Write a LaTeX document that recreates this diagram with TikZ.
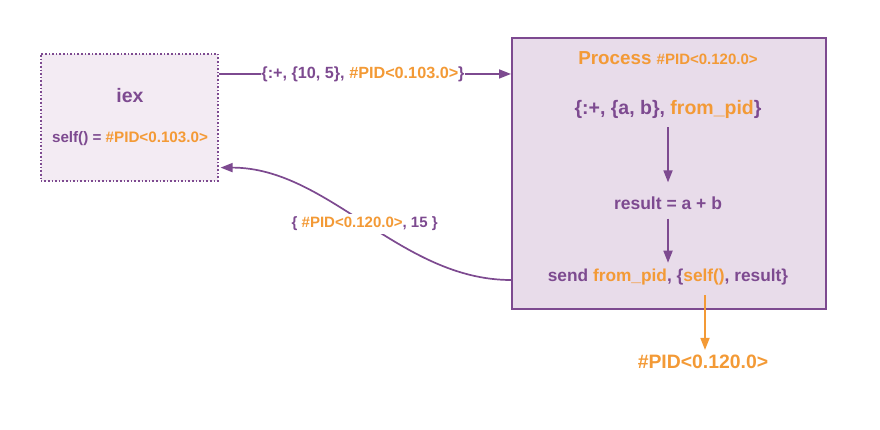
\documentclass[tikz,border=0pt]{standalone}
\usepackage{fontspec}
\setmainfont{Liberation Sans}
\usetikzlibrary{arrows.meta}
\definecolor{pur}{HTML}{7D4A90}
\definecolor{org}{HTML}{F39A36}
\definecolor{pfill}{HTML}{E8DCEA}
\definecolor{ifill}{HTML}{F3EBF3}
\newcommand{\fsz}[1]{\fontsize{#1}{#1}\selectfont\bfseries}
\begin{document}
\begin{tikzpicture}[x=1pt,y=-1pt,
  txt/.style={text=pur, inner sep=1pt},
  arr/.style={draw=pur, line width=1.7pt, -{Triangle[length=12pt,width=9pt]}},
  oarr/.style={draw=org, line width=1.7pt, -{Triangle[length=12pt,width=9pt]}}]
\useasboundingbox (0,0) rectangle (880,430);
% boxes
\node[draw=pur, dotted, line width=1.6pt, fill=ifill, minimum width=177, minimum height=127, anchor=north west, inner sep=0pt] (iex) at (40,53) {};
\node[draw=pur, line width=1.6pt, fill=pfill, minimum width=314, minimum height=271, anchor=north west, inner sep=0pt] (proc) at (511,37) {};
% iex texts
\node[txt, font=\fsz{19.5}] (iexlbl) at (130,96) {iex};
\node[txt, font=\fsz{15.2}] (self) at (130,139) {self() = \textcolor{org}{\#PID<0.103.0>}};
% process texts
\node[txt, text=org] (title) at (668,58) {\fsz{18.8}Process \fsz{15}\#PID<0.120.0>};
\node[txt, font=\fsz{19.5}] (pat) at (668,109) {\{:+, \{a, b\}, \textcolor{org}{from\_pid}\}};
\node[txt, font=\fsz{17.5}] (res) at (668,203) {result = a + b};
\node[txt, font=\fsz{17.3}] (send) at (668,277) {send \textcolor{org}{from\_pid}, \{\textcolor{org}{self()}, result\}};
\node[txt, text=org, font=\fsz{19.4}] (pid) at (703,362) {\#PID<0.120.0>};
% top message
\node[txt, font=\fsz{16.2}, inner sep=0pt] (top) at (363,74) {\{:+, \{10, 5\}, \textcolor{org}{\#PID<0.103.0>}\}};
\draw[pur, line width=1.7pt] (iex.east |- top) -- (top.west);
\draw[arr] (top.east) -- (proc.west |- top);
% inner arrows
\draw[arr, shorten <=8pt, shorten >=13pt] (pat.south) -- (res.north);
\draw[arr, shorten <=8pt, shorten >=5pt] (res.south) -- (res.south |- send.north);
\draw[oarr, shorten <=9pt, shorten >=4pt] ([xshift=2pt]pid.north |- send.south) -- ([xshift=2pt]pid.north);
% reply
\draw[arr] ([yshift=-3pt]proc.west |- send) .. controls +(-111,0) and +(108,0) .. ([yshift=14pt,xshift=2pt]iex.south east)
  node[pos=0.5, fill=white, inner sep=3pt, font=\fsz{15}, text=pur] (reply) {\{ \textcolor{org}{\#PID<0.120.0>}, 15 \}};
\end{tikzpicture}
\end{document}
